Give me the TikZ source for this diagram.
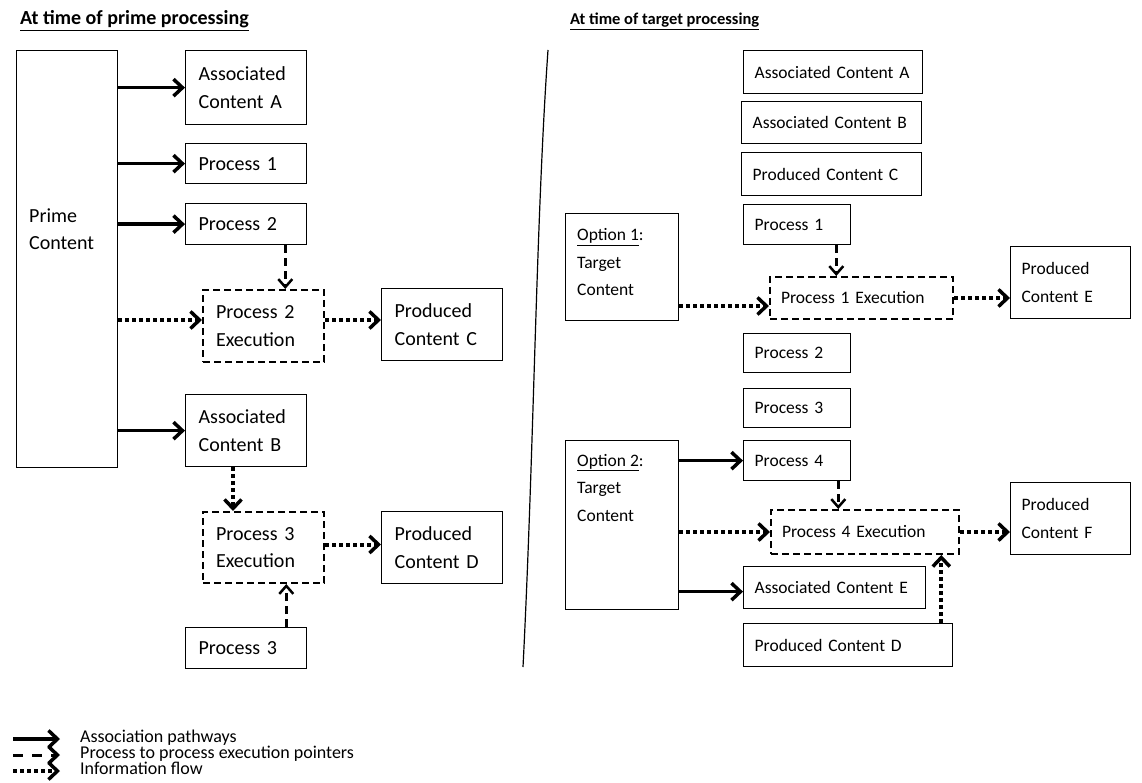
\documentclass[tikz,border=0pt]{standalone}
\usepackage{fontspec}
\setmainfont{Carlito}
\usetikzlibrary{arrows.meta}
\newcommand{\bigtxt}{\fontsize{20}{27.5}\selectfont}
\newcommand{\smalltxt}{\fontsize{17.5}{27.5}\selectfont}
\newcommand{\keyfont}{\fontsize{18}{20}\selectfont}

\begin{document}
\begin{tikzpicture}[x=1pt,y=-1pt,
  box/.style={draw,line width=1.3pt,rectangle,anchor=north west,inner xsep=13pt,inner ysep=0pt,align=left},
  lbox/.style={box,font=\bigtxt},
  rbox/.style={box,inner xsep=11pt,font=\smalltxt},
  lexec/.style={lbox,line width=2pt,dash pattern=on 7pt off 4pt},
  rexec/.style={rbox,line width=2pt,dash pattern=on 7pt off 4pt},
  boxtxt/.style={anchor=base west,align=left,inner sep=0pt},
  head/.style={-{Straight Barb[length=9pt,width=17pt,line width=3.5pt]}},
  assoc/.style={line width=3.5pt,head},
  flow/.style={line width=4pt,dash pattern=on 4pt off 3pt,head},
  pointer/.style={line width=3pt,dash pattern=on 8pt off 5pt,-{Straight Barb[length=8pt,width=14pt,line width=2.5pt]}},
  keydash/.style={line width=3pt,dash pattern=on 10pt off 9pt,head},
  title/.style={anchor=base west,inner sep=0pt,font=\fontsize{#1}{20}\selectfont\bfseries},
  keytxt/.style={anchor=west,inner xsep=20pt,inner ysep=0pt,text height=9pt,text depth=3pt,font=\keyfont}]
  \useasboundingbox (0,0) rectangle (1142,783);

  \node[title=20]	(ptitle)	at (20,25)	{\underline{At time of prime processing}};
  \node[title=16.5]	(ttitle)	at (570,25)	{\underline{At time of target processing}};

  \node[lbox,text width=75pt,minimum height=417pt]	(prime)	at (16,50)	{};
  \node[boxtxt,font=\bigtxt]	(primetxt)	at (29,250)	{Prime\\Content};
  \node[lbox,text width=95pt,minimum height=74pt]	(assocA)	at (185,50)	{Associated\\Content A};
  \node[lbox,text width=95pt,minimum height=40pt]	(proc1)	at (185,143)	{Process 1};
  \node[lbox,text width=95pt,minimum height=41pt]	(proc2)	at (185,203)	{Process 2};
  \node[lexec,text width=95pt,minimum height=72pt]	(exec2)	at (202,289)	{Process 2\\Execution};
  \node[lbox,text width=95pt,minimum height=72pt]	(prodC)	at (381,288)	{Produced\\Content C};
  \node[lbox,text width=95pt,minimum height=72pt]	(assocB)	at (185,394)	{Associated\\Content B};
  \node[lexec,text width=95pt,minimum height=71pt]	(exec3)	at (202,511)	{Process 3\\Execution};
  \node[lbox,text width=95pt,minimum height=72pt]	(prodD)	at (381,511)	{Produced\\Content D};
  \node[lbox,text width=95pt,minimum height=41pt]	(proc3)	at (185,627)	{Process 3};

  \draw[assoc] (prime.east |- assocA.west) -- (assocA.west);
  \draw[assoc] (prime.east |- proc1.west) -- (proc1.west);
  \draw[assoc] (prime.east |- proc2.west) -- (proc2.west);
  \draw[assoc] (prime.east |- assocB.west) -- (assocB.west);
  \coordinate (p2out) at ([xshift=-22pt]proc2.south east);
  \draw[pointer] (p2out) -- (p2out |- exec2.north);
  \coordinate (e2in) at ([yshift=6pt]exec2.west);
  \draw[flow] (prime.east |- e2in) -- (e2in);
  \coordinate (e2out) at ([yshift=6pt]exec2.east);
  \draw[flow] (e2out) -- (prodC.west |- e2out);
  \coordinate (bout) at ([xshift=48pt]assocB.south west);
  \draw[flow] (bout) -- (bout |- exec3.north);
  \coordinate (e3out) at ([yshift=3pt]exec3.east);
  \draw[flow] (e3out) -- (prodD.west |- e3out);
  \coordinate (p3out) at ([xshift=-21pt]proc3.north east);
  \draw[pointer] (p3out) -- (p3out |- exec3.south);

  \draw[line width=1.2pt] (548,50) .. controls (536,220) and (534,450) .. (523,667);

  \node[rbox,text width=157pt,minimum height=43pt]	(tAssocA)	at (743,50)	{Associated Content A};
  \node[rbox,text width=158pt,minimum height=42pt]	(tAssocB)	at (741,101)	{Associated Content B};
  \node[rbox,text width=158pt,minimum height=43pt]	(tProdC)	at (741,152)	{Produced Content C};
  \node[rbox,text width=85pt,minimum height=40pt]	(tProc1)	at (743,204)	{Process 1};
  \node[rbox,text width=91pt,minimum height=107pt]	(opt1)	at (565,213)	{};
  \node[boxtxt,font=\smalltxt]	(opt1txt)	at (577,296)	{\underline{Option 1}:\\Target\\Content};
  \node[rexec,text width=161pt,minimum height=42pt]	(tExec1)	at (769,276)	{Process 1 Execution};
  \node[rbox,text width=98pt,minimum height=72pt]	(tProdE)	at (1010,246)	{Produced\\Content E};
  \node[rbox,text width=85pt,minimum height=39pt]	(tProc2)	at (743,333)	{Process 2};
  \node[rbox,text width=85pt,minimum height=39pt]	(tProc3)	at (743,388)	{Process 3};
  \node[rbox,text width=91pt,minimum height=169pt]	(opt2)	at (565,440)	{};
  \node[boxtxt,font=\smalltxt]	(opt2txt)	at (577,521)	{\underline{Option 2}:\\Target\\Content};
  \node[rbox,text width=85pt,minimum height=40pt]	(tProc4)	at (743,440)	{Process 4};
  \node[rexec,text width=166pt,minimum height=44pt]	(tExec4)	at (770,509)	{Process 4 Execution};
  \node[rbox,text width=98pt,minimum height=72pt]	(tProdF)	at (1010,482)	{Produced\\Content F};
  \node[rbox,text width=160pt,minimum height=42pt]	(tAssocE)	at (743,566)	{Associated Content E};
  \node[rbox,text width=187pt,minimum height=43pt]	(tProdD)	at (743,623)	{Produced Content D};

  \coordinate (t1out) at ([xshift=-15pt]tProc1.south east);
  \draw[pointer] (t1out) -- (t1out |- tExec1.north);
  \coordinate (t1in) at ([yshift=-8pt]tExec1.west);
  \draw[flow] (opt1.east |- t1in) -- (t1in);
  \draw[flow] (tExec1.east) -- (tProdE.west |- tExec1.east);
  \draw[assoc] (opt2.east |- tProc4.west) -- (tProc4.west);
  \draw[flow] (opt2.east |- tExec4.west) -- (tExec4.west);
  \draw[flow] (tExec4.east) -- (tProdF.west |- tExec4.east);
  \coordinate (t5in) at ([yshift=-4pt]tAssocE.west);
  \draw[assoc] (opt2.east |- t5in) -- (t5in);
  \coordinate (t4out) at ([xshift=-13pt]tProc4.south east);
  \draw[pointer] (t4out) -- (t4out |- tExec4.north);
  \coordinate (tdout) at ([xshift=-12pt]tProdD.north east);
  \draw[flow] (tdout) -- (tdout |- tExec4.south);

  \coordinate (k1) at (13,739);
  \node[keytxt]	(key1)	at (60,739)	{Association pathways};
  \draw[assoc] (k1) -- (key1.west);
  \coordinate (k2) at (13,755);
  \node[keytxt]	(key2)	at (60,755)	{Process to process execution pointers};
  \draw[keydash] (k2) -- (key2.west);
  \coordinate (k3) at (13,771);
  \node[keytxt]	(key3)	at (60,771)	{Information flow};
  \draw[flow] (k3) -- (key3.west);
\end{tikzpicture}
\end{document}
